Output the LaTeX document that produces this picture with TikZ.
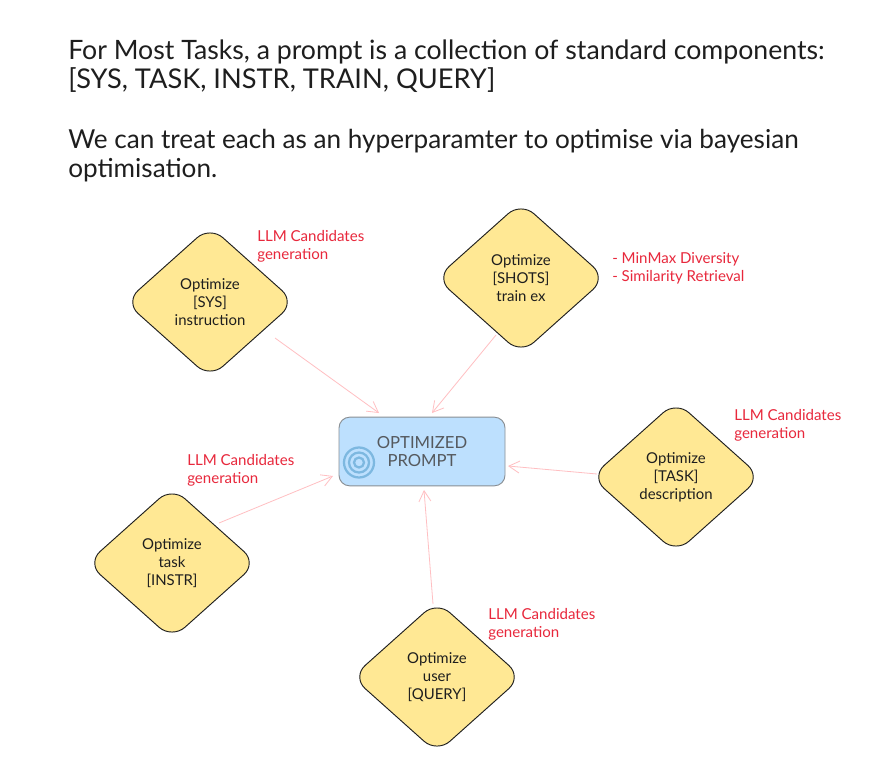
\documentclass[tikz,border=0pt]{standalone}
\usepackage{fontspec}
\setmainfont{Lato}
\usetikzlibrary{shapes.geometric,arrows.meta,calc}
\definecolor{ink}{HTML}{1E1E1E}
\definecolor{dfill}{HTML}{FFE894}
\definecolor{pfill}{HTML}{BDE0FE}
\definecolor{pline}{HTML}{8A8F94}
\definecolor{ptext}{HTML}{55595E}
\definecolor{redt}{HTML}{E8283C}
\definecolor{conn}{HTML}{FFBFC2}
\definecolor{ring}{HTML}{7DB8E0}
\tikzset{
  x=0.75pt,y=-0.75pt,
  opt/.style={diamond,aspect=1.118,draw=ink,line width=0.7pt,fill=dfill,rounded corners=13pt,
    minimum width=127.5pt,minimum height=114pt,inner sep=0pt,align=center,text=ink,
    font=\fontsize{11.2pt}{13.5pt}\selectfont},
  note/.style={anchor=north west,inner sep=0pt,align=left,text=redt,font=\fontsize{11.3pt}{13.5pt}\selectfont},
  flow/.style={draw=conn,line width=0.6pt,-{Straight Barb[length=8pt,width=9pt,line width=0.6pt]}},
  title/.style={anchor=north west,inner sep=0pt,align=left,text=ink,font=\fontsize{20pt}{21.8pt}\selectfont},
  result/.style={rectangle,draw=pline,line width=0.7pt,fill=pfill,rounded corners=8pt,
    minimum width=124.5pt,minimum height=51.5pt,inner sep=0pt,align=center,text=ptext,
    font=\fontsize{12.5pt}{13.5pt}\selectfont},
  ringline/.style={draw=ring,line width=1.7pt}
}
\begin{document}
\begin{tikzpicture}
\useasboundingbox (0,0) rectangle (891,782);
\fill[white] (0,0) rectangle (891,782);
\node[title] (head) at (68,39.5) {For Most Tasks, a prompt is a collection of standard components:\\
{\fontsize{20.4pt}{21.8pt}\selectfont [SYS, TASK, INSTR, TRAIN, QUERY]}\\[23pt]
{\fontsize{19.6pt}{21.8pt}\selectfont We can treat each as an hyperparamter to optimise via bayesian}\\
{\fontsize{19.6pt}{21.8pt}\selectfont optimisation.}};
\node[result] (prompt) at (422,451.5) {OPTIMIZED\\PROMPT};
\draw[ringline] ($(prompt)+(-63,11)$) circle[radius=15];
\draw[ringline] ($(prompt)+(-63,11)$) circle[radius=10];
\draw[ringline] ($(prompt)+(-63,11)$) circle[radius=5];
\node[opt] (sys) at (210,302) {Optimize\\{[SYS]}\\instruction};
\node[opt] (shots) at (521,278) {Optimize\\{[SHOTS]}\\train ex};
\node[opt] (task) at (676,477) {Optimize\\{[TASK]}\\description};
\node[opt] (instr) at (172,563) {Optimize\\task\\{[INSTR]}};
\node[opt] (query) at (437,677) {Optimize\\user\\{[QUERY]}};
\node[note] (nsys) at (257,230) {LLM Candidates\\generation};
\node[note] (nshots) at (612,252) {- MinMax Diversity\\- Similarity Retrieval};
\node[note] (ntask) at (734,409) {LLM Candidates\\generation};
\node[note] (ninstr) at (187,454) {LLM Candidates\\generation};
\node[note] (nquery) at (488,608) {LLM Candidates\\generation};
\draw[flow] ($(sys)+(65,36)$) -- ($(prompt)+(-43,-38.5)$);
\draw[flow] ($(shots)+(-25,57)$) -- ($(prompt)+(10,-38.5)$);
\draw[flow] ($(task)+(-79,-3)$) -- ($(prompt)+(86,14.5)$);
\draw[flow] ($(instr)+(47,-40)$) -- ($(prompt)+(-89,24.5)$);
\draw[flow] ($(query)+(-4,-73)$) -- ($(prompt)+(2,38.5)$);
\end{tikzpicture}
\end{document}
